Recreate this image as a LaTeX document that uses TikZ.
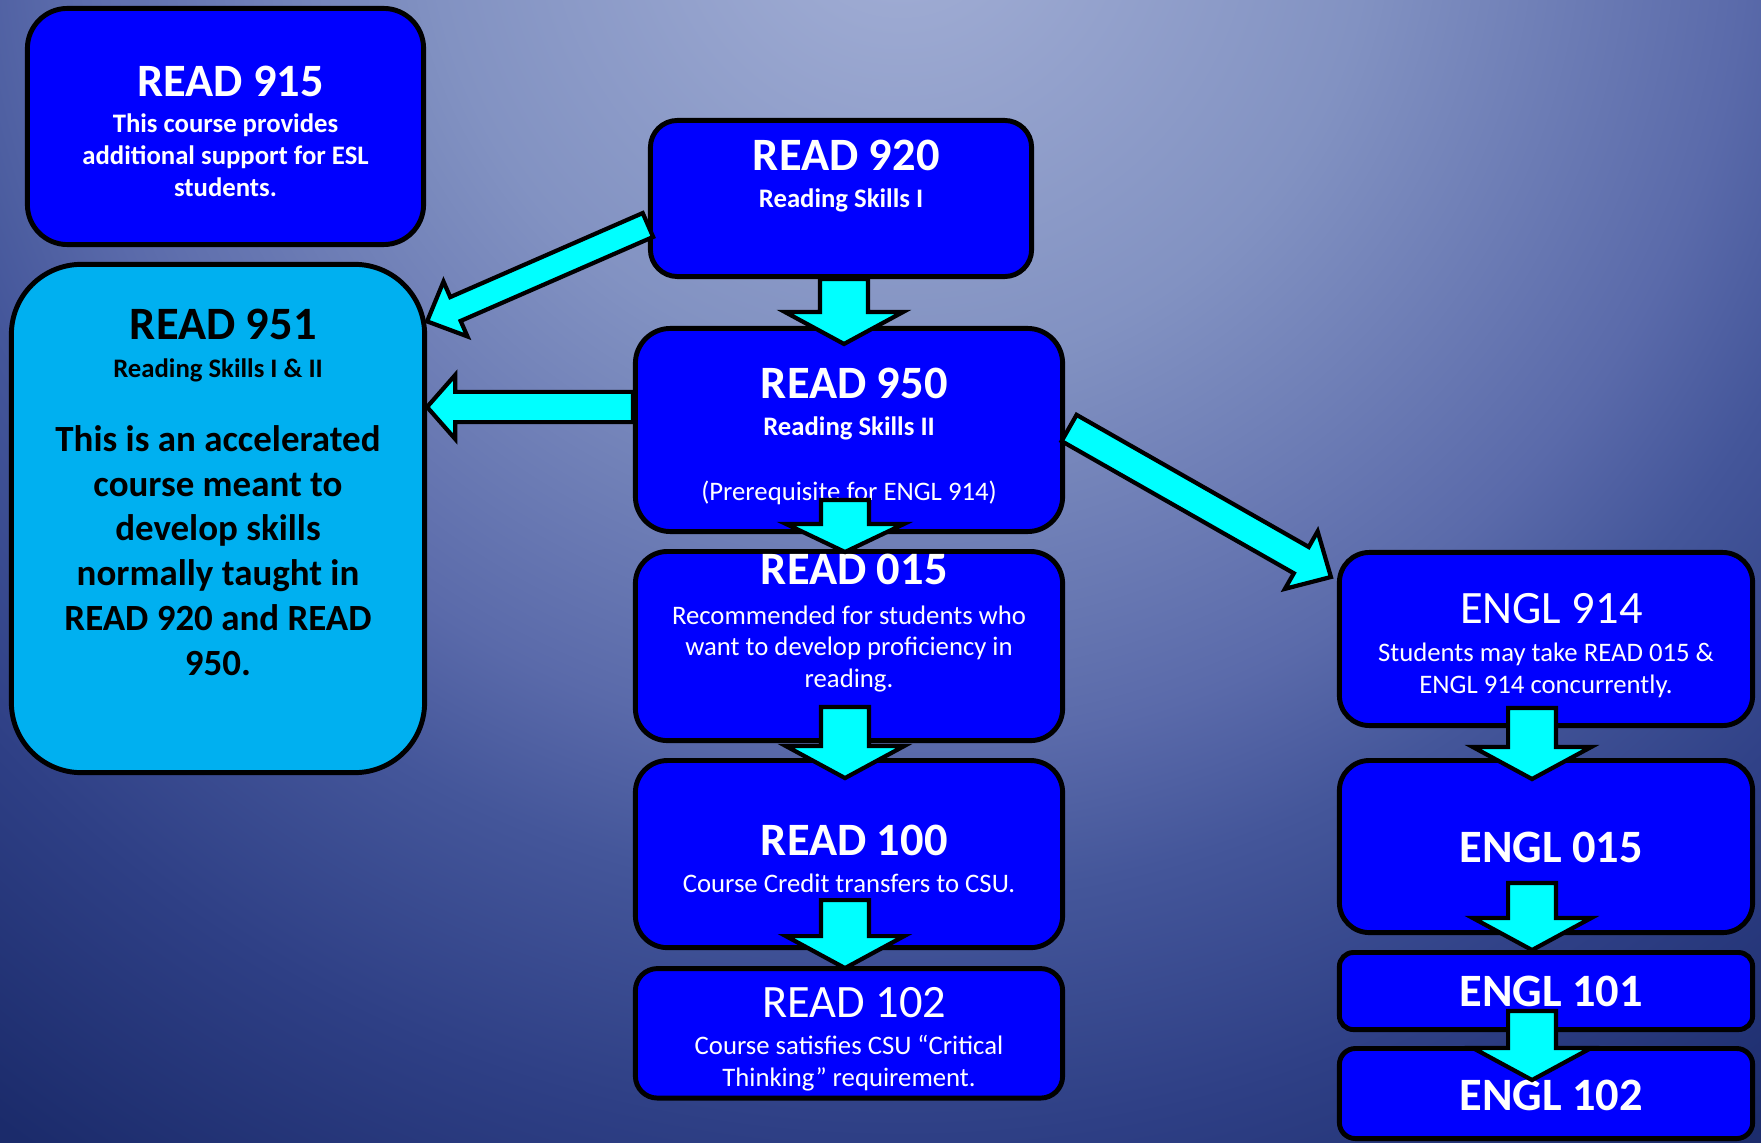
\documentclass[tikz,border=0pt]{standalone}
\usepackage{fontspec}
\setmainfont{Carlito}
\usetikzlibrary{calc,positioning}

\definecolor{boxblue}{RGB}{0,0,255}
\definecolor{lightcourse}{RGB}{0,176,240}
\definecolor{arrowcyan}{RGB}{0,255,255}
\definecolor{bgA}{HTML}{A4B0D6}
\definecolor{bgB}{HTML}{8292C2}
\definecolor{bgC}{HTML}{5A6AAA}
\definecolor{bgD}{HTML}{44569A}
\definecolor{bgE}{HTML}{2E3F85}
\definecolor{bgF}{HTML}{1B2B6B}
\pgfdeclareradialshading{slidebg}{\pgfpoint{0bp}{0bp}}{color(0bp)=(bgA); color(7.35bp)=(bgB); color(13.25bp)=(bgC); color(15.6bp)=(bgD); color(19.35bp)=(bgE); color(23.75bp)=(bgF); color(50bp)=(bgF)}

\newcommand{\cnum}[2][\bfseries]{{\fontsize{13.2}{15}\selectfont#1 #2}}
\newcommand{\blockarrow}[5]{%
  \path #1 coordinate (tail) #2 coordinate (tip);
  \path ($(tip)!#5!(tail)$) coordinate (neck);
  \draw[flowarrow] ($(tail)!#3!90:(tip)$) -- ($(neck)!#3!90:(tip)$) -- ($(neck)!#4!90:(tip)$) -- (tip)
    -- ($(neck)!#4!-90:(tip)$) -- ($(neck)!#3!-90:(tip)$) -- ($(tail)!#3!-90:(tip)$) -- cycle;
}

\begin{document}
\begin{tikzpicture}[x=0.01cm, y=-0.01cm,
    course/.style={draw=black, line width=1.4pt, fill=boxblue, text=white, align=center, text depth=0pt, font=\fontsize{7.6}{9}\selectfont},
    boldcourse/.style={course, font=\fontsize{7.6}{9}\selectfont\bfseries},
    flowarrow/.style={draw=black, line width=1.2pt, fill=arrowcyan, line join=miter}]

    \useasboundingbox (0,0) rectangle (1761,1143);
    \begin{scope}
        \clip (0,0) rectangle (1761,1143);
        \shade[shading=slidebg] (900,-100) circle (1600);
    \end{scope}

    \node[boldcourse, minimum width=39.6mm, minimum height=23.6mm, rounded corners=4mm, text height=13.9mm] (r915) at (225.5,126.5)
        {\cnum{READ 915}\\[1.3pt] This course provides\\ additional support for ESL\\ students.};
    \node[course, fill=lightcourse, text=black, font=\fontsize{10.5}{12.75}\selectfont\bfseries, minimum width=41.3mm, minimum height=50.8mm, rounded corners=7mm, text height=31.36mm] (r951) at (218,518.5)
        {\cnum{READ 951}\\[-1.95pt] {\fontsize{7.6}{9}\selectfont Reading Skills I \& II}\\[8.15pt] This is an accelerated\\ course meant to\\ develop skills\\ normally taught in\\ READ 920 and READ\\ 950.};

    \node[boldcourse, minimum width=38.1mm, minimum height=15.6mm, rounded corners=2.7mm, text height=1.7mm] (r920) at (841,198.5)
        {\cnum{READ 920}\\[1.5pt] Reading Skills I};
    \node[course, minimum width=42.7mm, minimum height=20.3mm, rounded corners=3.5mm, text height=14.1mm] (r950) at (849,430)
        {\cnum{READ 950}\\[1.6pt] \textbf{Reading Skills II}\\[9.4pt] (Prerequisite for ENGL 914)};
    \node[course, below=1.5mm of r950, minimum width=42.7mm, minimum height=18.9mm, rounded corners=3.2mm, text height=8.26mm] (r015)
        {\cnum{READ 015}\\[2.2pt] Recommended for students who\\ want to develop proficiency in\\ reading.};
    \node[course, below=1.5mm of r015, minimum width=42.7mm, minimum height=18.7mm, rounded corners=3.2mm, text height=7.74mm] (r100)
        {\cnum{READ 100}\\[1.7pt] Course Credit transfers to CSU.};
    \node[course, below=1.6mm of r100, minimum width=42.7mm, minimum height=12.5mm, rounded corners=2.2mm, text height=10.6mm] (r102)
        {\cnum[\mdseries]{READ 102}\\[1.7pt] Course satisfies CSU “Critical\\ Thinking” requirement.};

    \node[course, minimum width=41.3mm, minimum height=17.3mm, rounded corners=3mm, text height=10.88mm] (e914) at (1546,639)
        {\cnum[\mdseries]{ENGL 914}\\[1.9pt] Students may take READ 015 \&\\ ENGL 914 concurrently.};
    \node[course, below=3mm of e914, minimum width=41.3mm, minimum height=17.2mm, rounded corners=3mm, text height=3.24mm] (e015) {\cnum{ENGL 015}};
    \node[course, below=1.5mm of e015, minimum width=41.3mm, minimum height=7.7mm, rounded corners=1.4mm, text height=3.14mm] (e101) {\cnum{ENGL 101}};
    \node[course, below=1.4mm of e101, minimum width=41.3mm, minimum height=9mm, rounded corners=1.6mm, text height=3.44mm] (e102) {\cnum{ENGL 102}};

    \blockarrow{($(r920.west)+(0,26.5)$)}{($(r951.north east)+(0,59.5)$)}{3.7pt}{8.5pt}{8.8pt}
    \blockarrow{($(r950.west)+(0,-23)$)}{($(r951.east |- r950.west)+(0,-23)$)}{4.3pt}{9.1pt}{8pt}
    \blockarrow{($(r950.east)+(4,-2)$)}{($(e914.north west)+(-6,27)$)}{4.3pt}{9.4pt}{9.7pt}
    \blockarrow{($(r920.south)+(3,0)$)}{($(r920.south |- r950.north)+(3,18)$)}{6.8pt}{16.8pt}{9.1pt}
    \blockarrow{($(r950.south)+(-4,-34)$)}{($(r015.north)+(-4,3)$)}{6.8pt}{16.8pt}{8pt}
    \blockarrow{($(r015.south)+(-4,-36)$)}{($(r100.north)+(-4,20)$)}{6.8pt}{16.8pt}{9.1pt}
    \blockarrow{($(r100.south)+(-4,-50)$)}{($(r102.north)+(-4,2)$)}{6.8pt}{16.8pt}{9.1pt}
    \blockarrow{($(e914.south)+(-14,-20)$)}{($(e015.north)+(-14,21)$)}{6.8pt}{16.8pt}{9.1pt}
    \blockarrow{($(e015.south)+(-14,-52)$)}{($(e101.north)+(-14,0)$)}{6.8pt}{16.8pt}{9.1pt}
    \blockarrow{($(e101.south)+(-14,-21)$)}{($(e102.north)+(-14,34)$)}{6.8pt}{16.8pt}{9.1pt}
\end{tikzpicture}
\end{document}
